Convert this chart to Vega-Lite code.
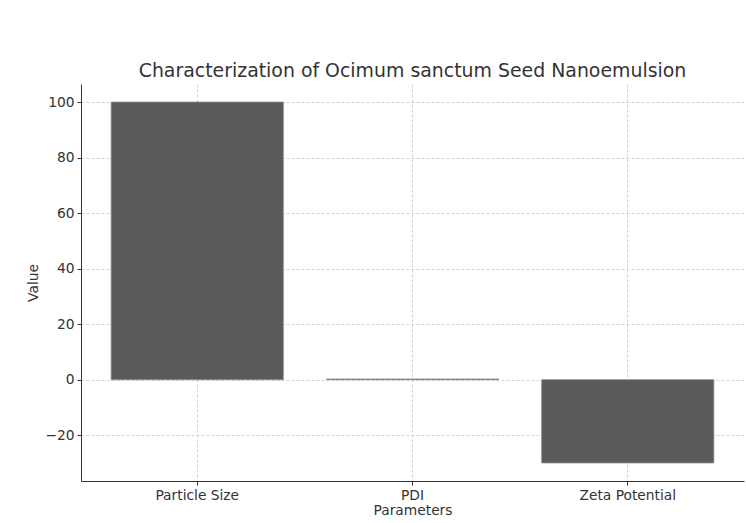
{
  "$schema": "https://vega.github.io/schema/vega-lite/v6.json",
  "width": 663,
  "height": 397,
  "autosize": {"type": "none"},
  "padding": {"left": 81, "top": 84, "right": 2, "bottom": 42},
  "background": "white",
  "config": {
    "view": {"stroke": null},
    "font": "DejaVu Sans",
    "axis": {
      "labelFont": "DejaVu Sans",
      "titleFont": "DejaVu Sans",
      "labelFontSize": 13.8,
      "titleFontSize": 13.8,
      "titleFontWeight": "normal",
      "labelColor": "#333333",
      "titleColor": "#333333",
      "domainColor": "#333333",
      "domainWidth": 1,
      "tickColor": "#333333",
      "tickSize": 4,
      "tickWidth": 1,
      "gridColor": "#c8c8c8",
      "gridDash": [3, 2],
      "gridWidth": 0.8,
      "zindex": 1
    }
  },
  "title": {
    "text": "Characterization of Ocimum sanctum Seed Nanoemulsion",
    "fontSize": 18.9,
    "fontWeight": "normal",
    "font": "DejaVu Sans",
    "color": "#333333",
    "anchor": "middle",
    "offset": 3
  },
  "data": {
    "values": [
      {"Parameter": "Particle Size", "Value": 100},
      {"Parameter": "PDI", "Value": 0.25},
      {"Parameter": "Zeta Potential", "Value": -30}
    ]
  },
  "mark": {"type": "bar", "color": "#5a5a5a", "stroke": "#8c8c8c", "strokeWidth": 0.8},
  "encoding": {
    "x": {
      "field": "Parameter",
      "type": "nominal",
      "sort": null,
      "scale": {"paddingInner": 0.2, "paddingOuter": 0.14},
      "axis": {
        "title": "Parameters",
        "labelAngle": 0,
        "labelPadding": 3,
        "titlePadding": 2,
        "grid": true,
        "bandPosition": 0.5
      }
    },
    "y": {
      "field": "Value",
      "type": "quantitative",
      "scale": {"domain": [-36.5, 106.5], "nice": false, "zero": false},
      "axis": {
        "title": "Value",
        "values": [-20, 0, 20, 40, 60, 80, 100],
        "labelPadding": 3,
        "titlePadding": 4,
        "grid": true
      }
    }
  }
}
